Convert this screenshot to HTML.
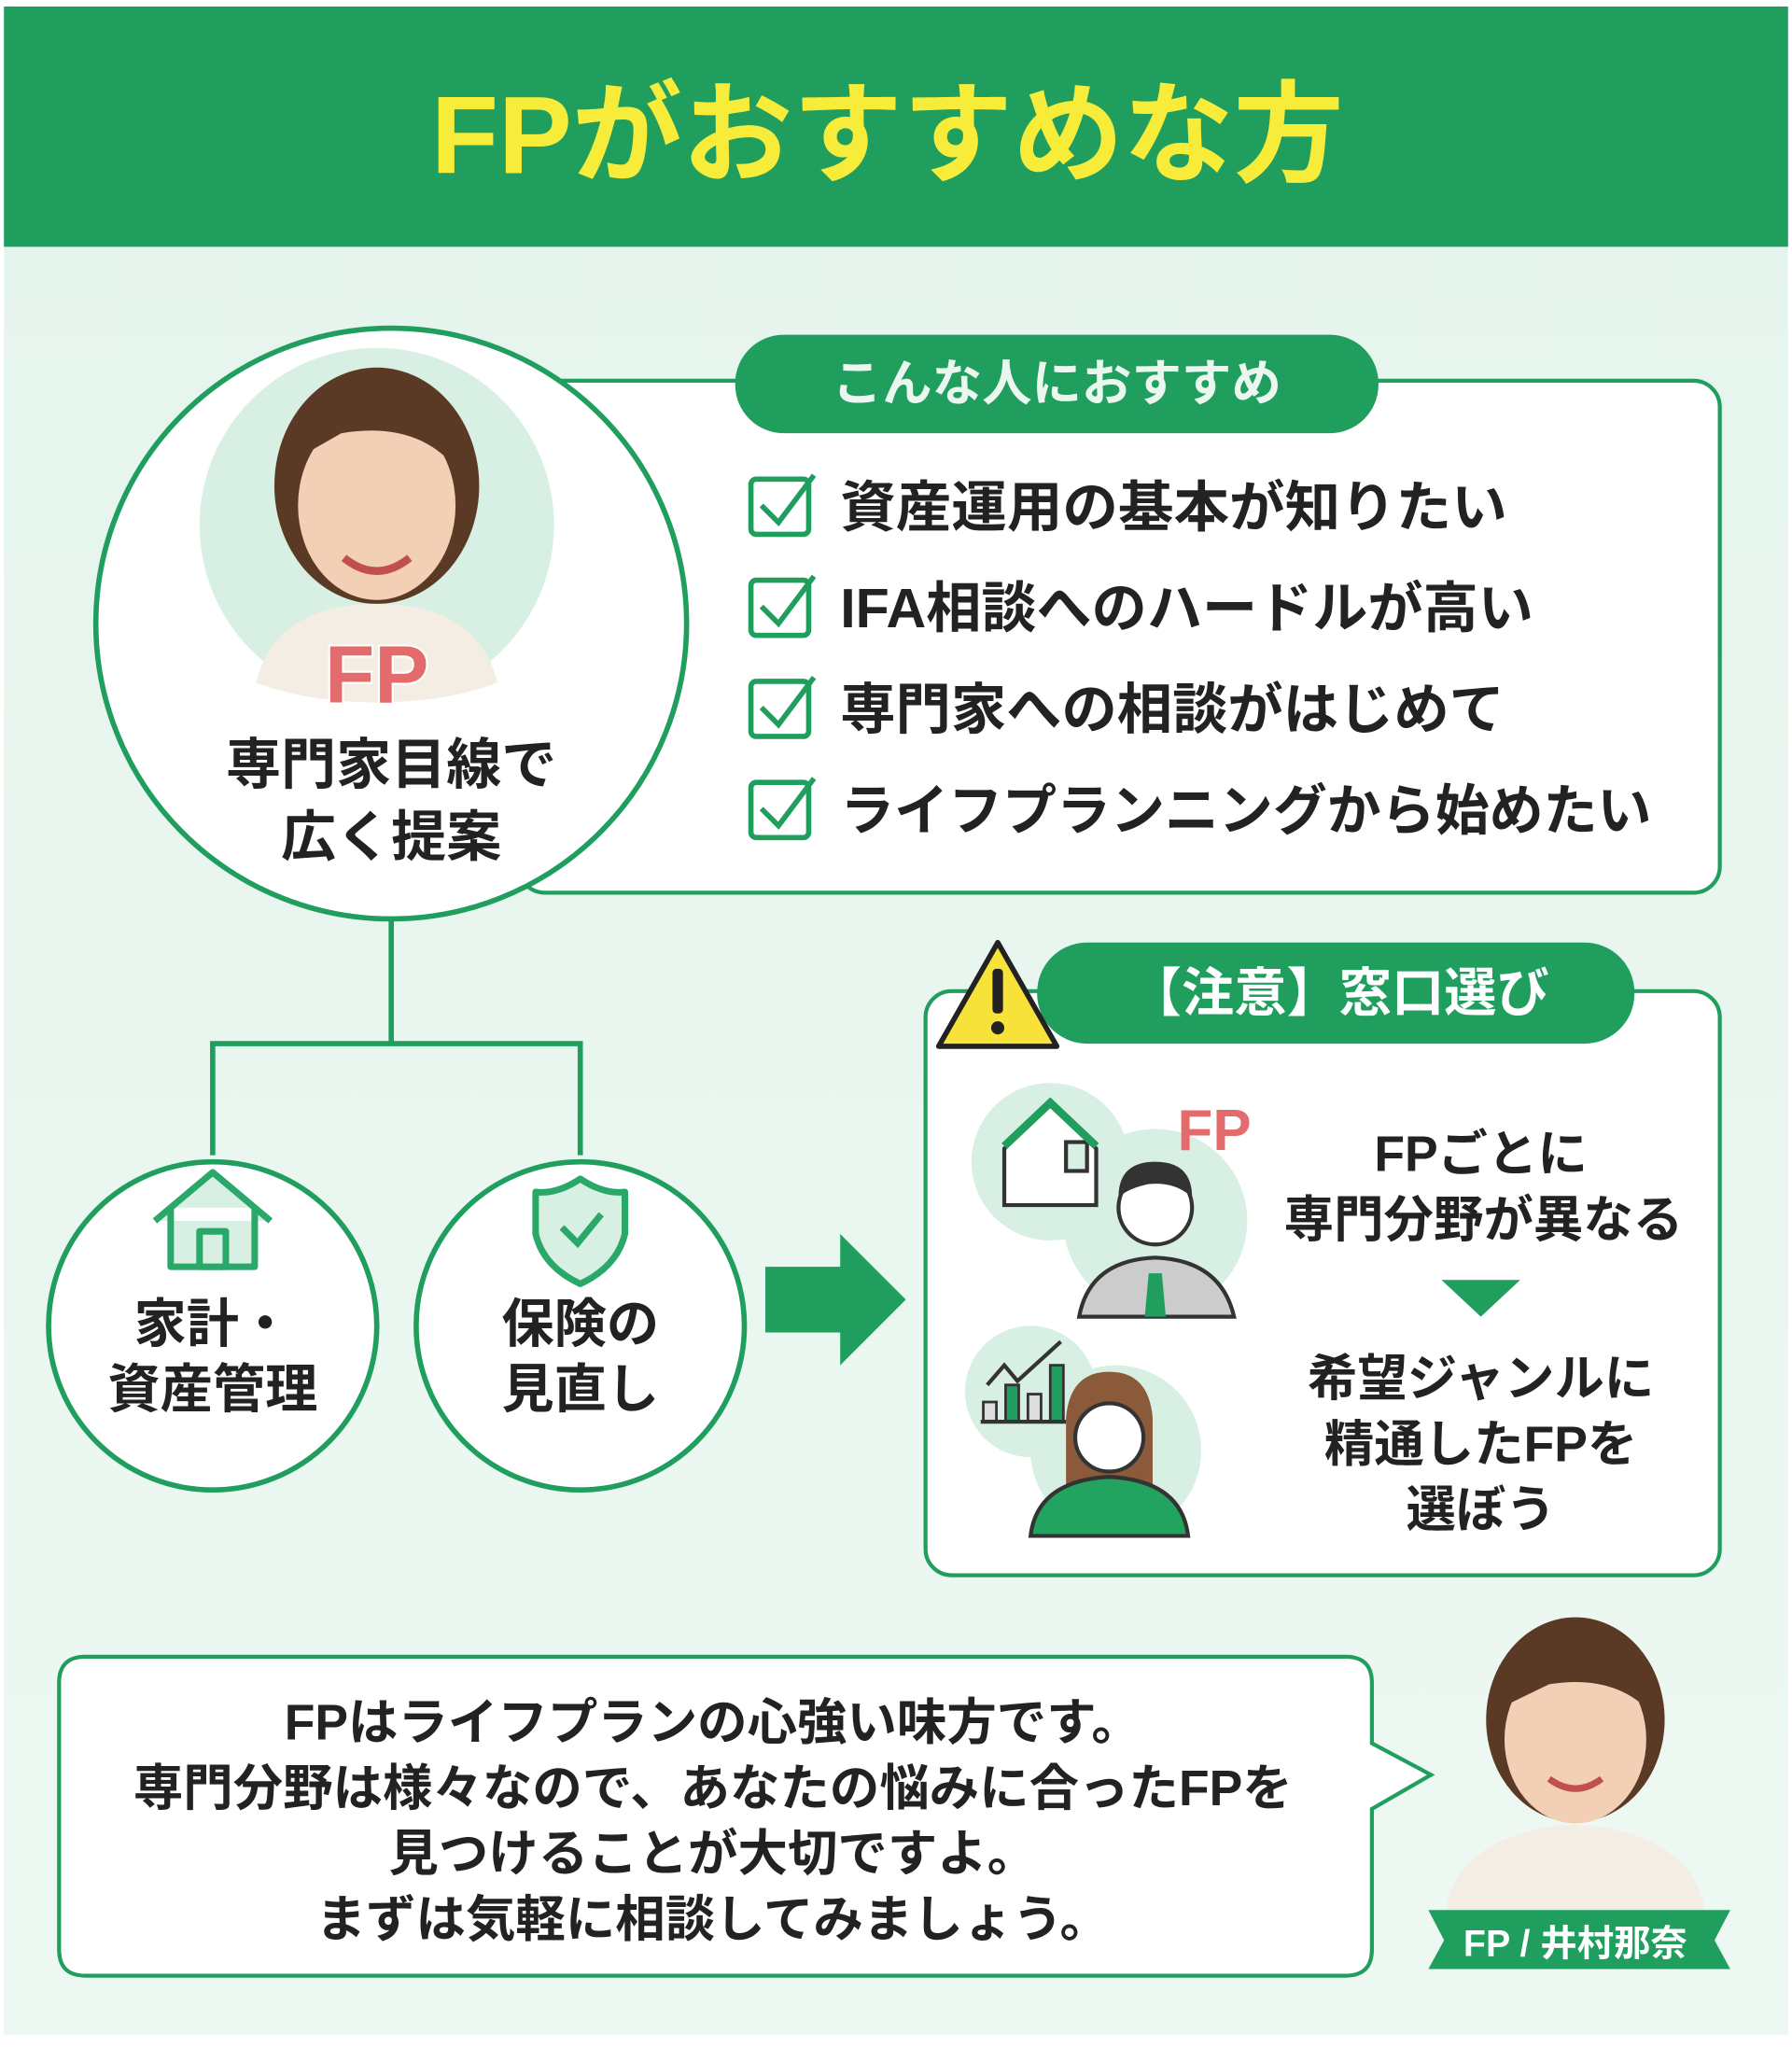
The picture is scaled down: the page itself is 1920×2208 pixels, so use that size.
<!DOCTYPE html>
<html><head><meta charset="utf-8">
<style>
html,body{margin:0;padding:0;background:#fff}
svg{display:block}
text{font-family:"Liberation Sans","Noto Sans CJK JP",sans-serif;font-weight:bold}
</style></head><body>
<svg width="1920" height="2208" viewBox="0 0 1365 1570" preserveAspectRatio="none" xmlns="http://www.w3.org/2000/svg">
<defs>
<linearGradient id="bg" x1="0" y1="0" x2="0" y2="1"><stop offset="0" stop-color="#e4f4ec"/><stop offset="1" stop-color="#eef8f3"/></linearGradient>
</defs>
<rect width="1365" height="1570" fill="#fff"/>
<rect x="3" y="5" width="1359" height="1545" fill="url(#bg)"/>
<rect x="3" y="5" width="1359" height="183" fill="#1f9e5e"/>
<text x="676" y="132" text-anchor="middle" font-size="84" fill="#f7ec3a">FPがおすすめな方</text>

<!-- right recommend box -->
<rect x="395" y="290" width="915" height="390" rx="20" fill="#fff" stroke="#1f9e5e" stroke-width="3"/>
<rect x="560" y="255" width="490" height="75" rx="37" fill="#1f9e5e"/>
<text x="805" y="305" text-anchor="middle" font-size="38" fill="#eaf7ee">こんな人におすすめ</text>
<g font-size="42" fill="#222">
<g stroke="#1f9e5e" stroke-width="4" fill="none">
<rect x="572" y="365" width="44" height="42" rx="4"/><path d="M580 385 L593 398 L620 362"/>
<rect x="572" y="442" width="44" height="42" rx="4"/><path d="M580 462 L593 475 L620 439"/>
<rect x="572" y="519" width="44" height="42" rx="4"/><path d="M580 539 L593 552 L620 516"/>
<rect x="572" y="596" width="44" height="42" rx="4"/><path d="M580 616 L593 629 L620 593"/>
</g>
<text x="640" y="401" textLength="508" lengthAdjust="spacingAndGlyphs">資産運用の基本が知りたい</text>
<text x="640" y="478" textLength="528" lengthAdjust="spacingAndGlyphs">IFA相談へのハードルが高い</text>
<text x="640" y="555" textLength="506" lengthAdjust="spacingAndGlyphs">専門家への相談がはじめて</text>
<text x="640" y="632" textLength="618" lengthAdjust="spacingAndGlyphs">ライフプランニングから始めたい</text>
</g>

<!-- main circle -->
<circle cx="298" cy="475" r="225" fill="#fff" stroke="#1f9e5e" stroke-width="4"/>
<circle cx="287" cy="400" r="135" fill="#d8efe3"/>
<path d="M195 520 Q210 460 287 460 Q364 460 379 520 Q340 535 287 535 Q234 535 195 520Z" fill="#f3ede4"/>
<ellipse cx="287" cy="370" rx="78" ry="90" fill="#5a3a25"/>
<ellipse cx="287" cy="385" rx="60" ry="72" fill="#f2cfb5"/>
<path d="M225 350 Q240 290 300 295 Q350 305 350 360 Q320 320 260 330Z" fill="#5a3a25"/>
<path d="M262 425 Q287 445 312 425" stroke="#c0504d" stroke-width="6" fill="none"/>
<text x="287" y="535" text-anchor="middle" font-size="62" fill="#e36b6b" stroke="#fff" stroke-width="3" paint-order="stroke">FP</text>
<text x="298" y="597" text-anchor="middle" font-size="42" fill="#222">専門家目線で</text>
<text x="298" y="652" text-anchor="middle" font-size="42" fill="#222">広く提案</text>

<!-- connectors -->
<path d="M298 700 V795 M162 795 H442 M162 793 V880 M442 793 V880" stroke="#1f9e5e" stroke-width="4" fill="none"/>

<!-- small circles -->
<circle cx="162" cy="1010" r="125" fill="#fff" stroke="#1f9e5e" stroke-width="4"/>
<circle cx="442" cy="1010" r="125" fill="#fff" stroke="#1f9e5e" stroke-width="4"/>
<g stroke="#2aa86a" stroke-width="5" fill="#d8efe3" stroke-linejoin="round">
<path d="M118 930 L162 893 L206 930 M130 920 V965 H194 V920"/>
<rect x="152" y="938" width="20" height="27"/>
<path d="M442 898 Q460 910 476 908 V940 Q470 965 442 978 Q414 965 408 940 V908 Q424 910 442 898Z"/>
</g>
<path d="M428 935 L440 947 L458 925" stroke="#2aa86a" stroke-width="5" fill="none"/>
<text x="162" y="1022" text-anchor="middle" font-size="40" fill="#222">家計・</text>
<text x="162" y="1072" text-anchor="middle" font-size="40" fill="#222">資産管理</text>
<text x="442" y="1022" text-anchor="middle" font-size="40" fill="#222">保険の</text>
<text x="442" y="1072" text-anchor="middle" font-size="40" fill="#222">見直し</text>

<!-- arrow -->
<path d="M583 965 H640 V940 L690 990 L640 1040 V1015 H583Z" fill="#1f9e5e"/>

<!-- caution box -->
<rect x="705" y="755" width="605" height="445" rx="20" fill="#fff" stroke="#1f9e5e" stroke-width="3"/>
<rect x="790" y="718" width="455" height="77" rx="38" fill="#1f9e5e"/>
<text x="1020" y="770" text-anchor="middle" font-size="40" fill="#fff">【注意】窓口選び</text>
<path d="M760 718 L805 797 H715Z" fill="#f7e23a" stroke="#222" stroke-width="4" stroke-linejoin="round"/>
<rect x="756" y="738" width="8" height="34" rx="3" fill="#222"/><circle cx="760" cy="783" r="5" fill="#222"/>

<!-- illustrations -->
<circle cx="800" cy="885" r="60" fill="#d8efe3"/>
<circle cx="880" cy="930" r="70" fill="#d8efe3"/>
<g stroke="#333" stroke-width="3" fill="#fff">
<path d="M765 875 L800 842 L835 875 V918 H765Z"/>
<rect x="812" y="870" width="16" height="22" fill="#d8efe3"/>
</g>
<path d="M765 873 L800 840 L835 873" stroke="#1f9e5e" stroke-width="6" fill="none"/>
<circle cx="880" cy="920" r="28" fill="#fff" stroke="#333" stroke-width="3"/>
<path d="M852 912 Q852 885 880 885 Q908 885 908 912 Q895 900 875 902 Q860 905 852 912Z" fill="#333"/>
<path d="M822 1003 Q830 960 880 958 Q930 960 940 1003Z" fill="#ccc" stroke="#333" stroke-width="3"/>
<path d="M875 970 L885 970 L888 1003 H872Z" fill="#1f9e5e"/>
<text x="925" y="876" text-anchor="middle" font-size="44" fill="#e36b6b">FP</text>

<circle cx="785" cy="1060" r="50" fill="#d8efe3"/>
<circle cx="850" cy="1105" r="65" fill="#d8efe3"/>
<g stroke="#333" stroke-width="2">
<rect x="749" y="1068" width="10" height="15" fill="#ddd"/>
<rect x="766" y="1055" width="10" height="28" fill="#1f9e5e"/>
<rect x="783" y="1062" width="10" height="21" fill="#ddd"/>
<rect x="800" y="1040" width="10" height="43" fill="#1f9e5e"/>
</g>
<path d="M747 1083 H812 M752 1055 L765 1040 L775 1052 L808 1022" stroke="#333" stroke-width="3" fill="none"/>
<path d="M812 1135 V1080 Q815 1045 845 1045 Q875 1045 878 1080 V1135Z" fill="#8a5a3a"/>
<circle cx="845" cy="1095" r="26" fill="#fff" stroke="#333" stroke-width="3"/>
<path d="M785 1170 Q790 1128 845 1125 Q900 1128 905 1170Z" fill="#22a360" stroke="#333" stroke-width="3"/>

<g font-size="38" fill="#222" text-anchor="middle">
<text x="1128" y="892">FPごとに</text>
<text x="1130" y="942">専門分野が異なる</text>
<text x="1128" y="1063">希望ジャンルに</text>
<text x="1128" y="1113">精通したFPを</text>
<text x="1128" y="1163">選ぼう</text>
</g>
<path d="M1098 975 H1158 L1128 1003Z" fill="#1f9e5e"/>

<!-- speech -->
<path d="M65 1262 H1025 Q1045 1262 1045 1282 V1328 L1090 1352 L1045 1378 V1485 Q1045 1505 1025 1505 H65 Q45 1505 45 1485 V1282 Q45 1262 65 1262Z" fill="#fff" stroke="#1f9e5e" stroke-width="3"/>
<g font-size="38" fill="#222" text-anchor="middle">
<text x="543" y="1325">FPはライフプランの心強い味方です。</text>
<text x="543" y="1375">専門分野は様々なので、あなたの悩みに合ったFPを</text>
<text x="543" y="1425">見つけることが大切ですよ。</text>
<text x="543" y="1475">まずは気軽に相談してみましょう。</text>
</g>

<!-- person -->
<path d="M1100 1460 Q1110 1395 1200 1390 Q1290 1395 1300 1460Z" fill="#f3ede4"/>
<ellipse cx="1200" cy="1310" rx="68" ry="78" fill="#5a3a25"/>
<ellipse cx="1200" cy="1325" rx="54" ry="64" fill="#f2cfb5"/>
<path d="M1145 1300 Q1160 1245 1215 1250 Q1260 1260 1258 1305 Q1230 1275 1180 1283Z" fill="#5a3a25"/>
<path d="M1180 1355 Q1200 1370 1220 1355" stroke="#c0504d" stroke-width="5" fill="none"/>
<path d="M1088 1455 H1318 L1306 1478 L1318 1500 H1088 L1100 1478Z" fill="#1f9e5e"/>
<text x="1200" y="1490" text-anchor="middle" font-size="28" fill="#fff" font-weight="normal">FP / 井村那奈</text>
</svg>
</body></html>
